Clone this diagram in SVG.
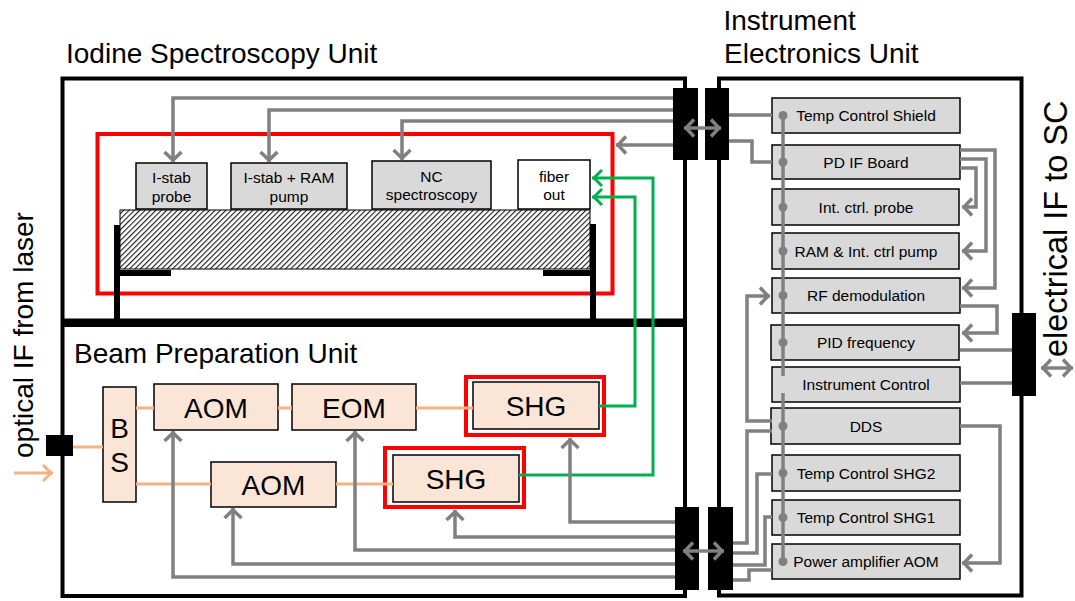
<svg xmlns="http://www.w3.org/2000/svg" width="1075" height="601" viewBox="0 0 1075 601">
  <style>
    text { font-family: "Liberation Sans", Arial, Helvetica, sans-serif; fill: #000; }
    .title { font-size: 28px; }
    .lbl { font-size: 15.5px; text-anchor: middle; }
    .big { font-size: 28px; text-anchor: middle; }
    .unit { fill: none; stroke: #000; stroke-width: 4; }
    .box { fill: #D9D9D9; stroke: #000; stroke-width: 1.5; }
    .wbox { fill: #FFFFFF; stroke: #000; stroke-width: 1.5; }
    .opt { fill: #FBE5D6; stroke: #000; stroke-width: 1.5; }
    .red { fill: none; stroke: #FF0000; stroke-width: 4; }
    .plug { fill: #000; }
    .sig { fill: none; stroke: #808080; stroke-width: 3.5; }
    .sig-a { fill: none; stroke: #808080; stroke-width: 3.5; marker-end: url(#arrGray); }
    .sig-aa { fill: none; stroke: #808080; stroke-width: 3.5; marker-start: url(#arrGray); marker-end: url(#arrGray); }
    .fib { fill: none; stroke: #00B050; stroke-width: 3; marker-end: url(#arrGreen); }
    .beam { fill: none; stroke: #F4B183; stroke-width: 3; }
    .dot { fill: #808080; }
  </style>
  <defs>
    <marker id="arrGray" viewBox="-14 -11 16 22" markerWidth="16" markerHeight="22" refX="0" refY="0" orient="auto-start-reverse" markerUnits="userSpaceOnUse">
      <path d="M-10,-8.5 L-2,0 L-10,8.5" fill="none" stroke="#808080" stroke-width="3.5"/>
    </marker>
    <marker id="arrGreen" viewBox="-14 -11 16 22" markerWidth="16" markerHeight="22" refX="0" refY="0" orient="auto" markerUnits="userSpaceOnUse">
      <path d="M-10,-8 L-2,0 L-10,8" fill="none" stroke="#00B050" stroke-width="3"/>
    </marker>
    <marker id="arrBeam" viewBox="-14 -11 16 22" markerWidth="16" markerHeight="22" refX="0" refY="0" orient="auto" markerUnits="userSpaceOnUse">
      <path d="M-10,-8 L-2,0 L-10,8" fill="none" stroke="#F4B183" stroke-width="3"/>
    </marker>
    <pattern id="hatch" width="3.8" height="10" patternUnits="userSpaceOnUse" patternTransform="rotate(45)">
      <line x1="0.6" y1="0" x2="0.6" y2="10" stroke="#000" stroke-width="1"/>
    </pattern>
  </defs>

  <rect width="1075" height="601" fill="#FFFFFF"/>

  <!-- unit enclosures -->
  <g id="iodine-unit">
    <rect class="unit" x="62.5" y="78.5" width="622.5" height="517.5"/>
    <rect x="62.5" y="318.5" width="622.5" height="8.5" fill="#000"/>
    <text class="title" x="66" y="63">Iodine Spectroscopy Unit</text>
    <rect class="red" x="97.5" y="134" width="515" height="159.5"/>
    <!-- optical bench with mounts -->
    <rect x="120" y="210" width="470" height="59" fill="url(#hatch)" stroke="#000" stroke-width="1"/>
    <path d="M117,225 V319 M114,273 H171 M593,224 V319 M543,273 H596" fill="none" stroke="#000" stroke-width="6"/>
  </g>
  <g id="beam-unit">
    <text class="title" x="74" y="363">Beam Preparation Unit</text>
  </g>
  <g id="electronics-unit">
    <rect class="unit" x="719" y="78.5" width="302.5" height="517"/>
    <text class="title" x="723.5" y="29.5">Instrument</text>
    <text class="title" x="724" y="63">Electronics Unit</text>
  </g>

  <!-- iodine unit components -->
  <g id="istab-probe">
    <rect class="box" x="136" y="163" width="71" height="46"/>
    <text class="lbl" x="171.5" y="183">I-stab</text>
    <text class="lbl" x="171.5" y="201.5">probe</text>
  </g>
  <g id="istab-ram-pump">
    <rect class="box" x="231" y="163" width="116" height="46"/>
    <text class="lbl" x="289" y="183">I-stab + RAM</text>
    <text class="lbl" x="289" y="201.5">pump</text>
  </g>
  <g id="nc-spectroscopy">
    <rect class="box" x="372" y="161" width="119" height="48"/>
    <text class="lbl" x="431.5" y="182">NC</text>
    <text class="lbl" x="431.5" y="200">spectroscopy</text>
  </g>
  <g id="fiber-out">
    <rect class="wbox" x="518" y="160" width="72" height="49"/>
    <text class="lbl" x="554" y="182">fiber</text>
    <text class="lbl" x="554" y="200">out</text>
  </g>

  <!-- beam preparation components -->
  <g id="bs">
    <rect class="opt" x="103" y="387" width="33" height="115"/>
    <text class="big" x="119.5" y="438">B</text>
    <text class="big" x="119.5" y="472">S</text>
  </g>
  <g id="aom1">
    <rect class="opt" x="154" y="384" width="124" height="46"/>
    <text class="big" x="216" y="418">AOM</text>
  </g>
  <g id="eom">
    <rect class="opt" x="292" y="384" width="124" height="46"/>
    <text class="big" x="354" y="418">EOM</text>
  </g>
  <g id="aom2">
    <rect class="opt" x="211" y="462" width="125" height="45"/>
    <text class="big" x="273.5" y="495">AOM</text>
  </g>
  <g id="shg1">
    <rect class="red" x="466" y="377" width="138" height="58"/>
    <rect class="opt" x="473" y="382" width="126" height="47"/>
    <text class="big" x="536" y="415.5">SHG</text>
  </g>
  <g id="shg2">
    <rect class="red" x="385" y="448" width="139" height="59"/>
    <rect class="opt" x="393" y="455" width="126" height="47"/>
    <text class="big" x="456" y="488.5">SHG</text>
  </g>

  <!-- electronics boards -->
  <g id="temp-shield"><rect class="box" x="772" y="98" width="188" height="35"/><text class="lbl" x="866" y="121">Temp Control Shield</text></g>
  <g id="pd-if"><rect class="box" x="772" y="145" width="188" height="34"/><text class="lbl" x="866" y="167.5">PD IF Board</text></g>
  <g id="int-probe"><rect class="box" x="772" y="189" width="187" height="36"/><text class="lbl" x="866" y="212.5">Int. ctrl. probe</text></g>
  <g id="ram-pump"><rect class="box" x="772" y="233" width="187" height="36"/><text class="lbl" x="866" y="256.5">RAM &amp; Int. ctrl pump</text></g>
  <g id="rf-demod"><rect class="box" x="772" y="278" width="188" height="35"/><text class="lbl" x="866" y="301">RF demodulation</text></g>
  <g id="pid"><rect class="box" x="771" y="325" width="188" height="35"/><text class="lbl" x="866" y="348">PID frequency</text></g>
  <g id="instr-ctrl"><rect class="box" x="772" y="367" width="188" height="35"/><text class="lbl" x="866" y="390">Instrument Control</text></g>
  <g id="dds"><rect class="box" x="771" y="408" width="189" height="36"/><text class="lbl" x="866" y="431.5">DDS</text></g>
  <g id="temp-shg2"><rect class="box" x="772" y="455" width="188" height="36"/><text class="lbl" x="866" y="478.5">Temp Control SHG2</text></g>
  <g id="temp-shg1"><rect class="box" x="772" y="500" width="188" height="35"/><text class="lbl" x="866" y="523">Temp Control SHG1</text></g>
  <g id="power-aom"><rect class="box" x="772" y="544" width="188" height="35"/><text class="lbl" x="866" y="567">Power amplifier AOM</text></g>

  <!-- external interfaces -->
  <g id="optical-if">
    <rect class="plug" x="46" y="435" width="27" height="21"/>
    <text class="title" transform="translate(33,458) rotate(-90)">optical IF from laser</text>
  </g>
  <g id="electrical-if">
    <rect class="plug" x="1012" y="313" width="24" height="83"/>
    <text class="title" style="font-size:32.5px" transform="translate(1067,357) rotate(-90)">electrical IF to SC</text>
  </g>

  <!-- connectors -->
  <g id="connectors">
    <!-- optical paths -->
    <path class="beam" d="M73,447 H103 M136,408 H154 M136,484 H211 M278,408 H292 M416,408 H473 M336,484 H393"/>
    <path class="beam" d="M14,473 H53" style="marker-end:url(#arrBeam)"/>
    <!-- fibers to iodine unit -->
    <path class="fib" d="M599,406 H635 V197 H592"/>
    <path class="fib" d="M519,475 H653 V178 H592"/>

    <!-- iodine unit harness -->
    <path class="sig-a" d="M673,98 H173 V162"/>
    <path class="sig-a" d="M673,110 H269 V162"/>
    <path class="sig-a" d="M673,121 H402 V160"/>
    <path class="sig-a" d="M673,145 H616"/>
    <path class="sig" d="M729,115 H772 M729,141 H752 V162 H772"/>

    <!-- PD IF board outputs -->
    <path class="sig-a" d="M960,150 H995 V288 H962"/>
    <path class="sig-a" d="M960,159 H986 V251 H962"/>
    <path class="sig-a" d="M960,168 H976 V207 H962"/>
    <path class="sig-a" d="M960,306 H997 V333 H962"/>
    <path class="sig" d="M960,350 H1012 M960,383 H1012"/>
    <path class="sig-a" d="M960,426 H1000 V563 H962"/>
    <path class="sig-a" d="M772,421 H747 V296 H770"/>

    <!-- internal bus -->
    <path class="sig" d="M783,115.5 V376 M783,393 V561.5"/>
    <g class="dot">
      <circle cx="783" cy="115.5" r="4.5"/>
      <circle cx="783" cy="162" r="4.5"/>
      <circle cx="783" cy="207" r="4.5"/>
      <circle cx="783" cy="251" r="4.5"/>
      <circle cx="783" cy="295.5" r="4.5"/>
      <circle cx="783" cy="342.5" r="4.5"/>
      <circle cx="783" cy="426" r="4.5"/>
      <circle cx="783" cy="473" r="4.5"/>
      <circle cx="783" cy="517.5" r="4.5"/>
      <circle cx="783" cy="561.5" r="4.5"/>
    </g>

    <!-- beam unit harness -->
    <path class="sig" d="M733,543 H747 V431 H772 M733,553 H757 V474 H772 M733,565 H765 V517 H772 M733,580 H749 V570 H772"/>
    <path class="sig-a" d="M675,522 H570 V438"/>
    <path class="sig-a" d="M675,537 H455 V510"/>
    <path class="sig-a" d="M675,550 H355 V431"/>
    <path class="sig-a" d="M675,564 H233 V508"/>
    <path class="sig-a" d="M675,577 H173 V431"/>

    <!-- plugs between units -->
    <rect class="plug" x="673" y="88" width="25" height="72"/>
    <rect class="plug" x="705" y="88" width="24" height="72"/>
    <rect class="plug" x="675" y="507" width="24" height="83"/>
    <rect class="plug" x="708" y="507" width="25" height="83"/>
    <path class="sig-aa" d="M684,128 H721"/>
    <path class="sig-aa" d="M683,551 H724"/>
    <path class="sig-aa" d="M1041,368 H1073"/>
  </g>
</svg>
